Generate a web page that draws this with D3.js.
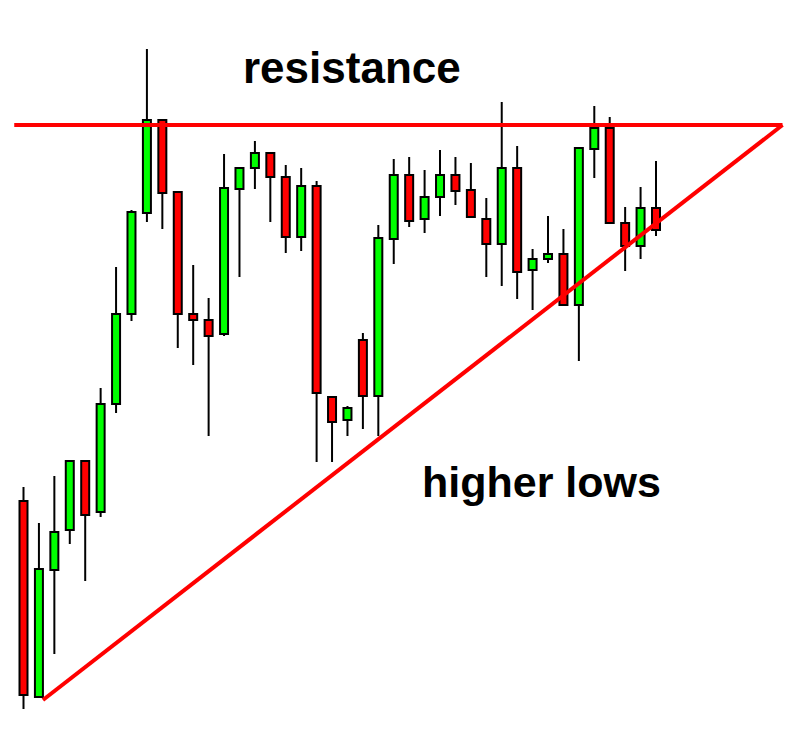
<!DOCTYPE html>
<html>
<head>
<meta charset="utf-8">
<script src="https://cdn.jsdelivr.net/npm/d3@7"></script>
<style>
	html, body { margin: 0; padding: 0; background: #fff; }
	svg { display: block; }
</style>
</head>
<body>
<div id="chart"></div>
<script>
// candle data, one entry per bar (price units)
var opens  = [44.8, 5.6, 31.0, 39.0, 52.8, 42.6, 64.2, 82.2, 102.4, 121.0, 106.6, 82.2, 81.0, 78.2, 107.2, 111.4, 114.4, 109.6, 97.6, 107.8, 65.6, 61.0, 77.0, 65.8, 97.2, 110.0, 101.2, 105.6, 110.0, 107.0, 101.2, 96.2, 111.4, 91.0, 93.2, 94.2, 84.0, 115.2, 119.4, 100.4, 95.8, 103.4];
var highs  = [47.6, 40.4, 49.8, 52.8, 52.8, 67.4, 91.6, 103.0, 135.2, 121.0, 106.6, 92.0, 85.4, 114.2, 111.4, 116.8, 114.6, 112.0, 111.4, 108.8, 65.6, 63.8, 78.4, 100.0, 113.2, 113.6, 111.0, 115.0, 113.6, 112.4, 105.4, 124.6, 115.8, 95.2, 101.8, 99.2, 115.4, 123.8, 121.6, 103.6, 107.6, 112.8];
var lows   = [3.2, 5.4, 14.2, 36.2, 28.8, 41.6, 62.4, 80.8, 100.6, 99.2, 75.4, 72.0, 57.8, 77.8, 89.6, 107.2, 100.6, 94.4, 94.8, 52.6, 52.6, 57.8, 59.2, 57.8, 92.2, 99.6, 98.4, 101.8, 104.0, 101.6, 89.6, 87.8, 85.2, 83.0, 92.4, 84.0, 72.8, 109.4, 100.4, 90.8, 93.2, 97.8];
var closes = [6.0, 31.2, 38.6, 52.8, 42.0, 64.2, 82.2, 102.6, 121.0, 106.4, 82.2, 81.0, 77.8, 107.4, 111.4, 114.4, 109.6, 97.6, 107.8, 66.4, 60.6, 63.4, 65.8, 97.4, 110.0, 100.8, 105.6, 110.0, 106.8, 101.6, 96.2, 111.4, 90.6, 93.2, 94.2, 84.0, 115.4, 119.4, 100.4, 95.8, 103.4, 99.0];

// trend lines, as [bar index, price] pairs
var resistanceLine = [[-0.6, 120], [49.2, 120]];
var supportLine    = [[1.26, 5], [49.2, 120]];

// annotation labels
var labelTexts = ['resistance', 'higher lows'];

var width = 800;
var height = 756;

var candles = opens.map(function(o, i) {
	return { i: i, open: o, high: highs[i], low: lows[i], close: closes[i] };
});

var svg = d3.select('#chart')
	.append('svg')
		.attr('width', width)
		.attr('height', height);

var x = d3.scaleLinear()
	.domain([0, candles.length - 1])
	.range([23.5, 656]);

var y = d3.scaleLinear()
	.domain([0, 130])
	.range([725, 75]);

var bodyWidth = 8;

var bars = svg.append('g')
	.selectAll('g.candle')
	.data(candles)
	.enter().append('g')
		.attr('class', 'candle');

// wicks
bars.append('line')
	.attr('x1', function(d) { return x(d.i); })
	.attr('x2', function(d) { return x(d.i); })
	.attr('y1', function(d) { return y(d.high); })
	.attr('y2', function(d) { return y(d.low); })
	.attr('stroke', '#000')
	.attr('stroke-width', 2);

// bodies
bars.append('rect')
	.attr('x', function(d) { return x(d.i) - bodyWidth/2; })
	.attr('width', bodyWidth)
	.attr('y', function(d) { return y(Math.max(d.open, d.close)); })
	.attr('height', function(d) { return Math.max(2, Math.abs(y(d.open) - y(d.close))); })
	.attr('fill', function(d) { return d.close >= d.open ? '#00ff00' : '#ff0000'; })
	.attr('stroke', '#000')
	.attr('stroke-width', 2);

var line = d3.line()
	.x(function(d) { return x(d[0]); })
	.y(function(d) { return y(d[1]); });

svg.append('path')
	.datum(resistanceLine)
	.attr('d', line)
	.attr('fill', 'none')
	.attr('stroke', '#ff0000')
	.attr('stroke-width', 4);

svg.append('path')
	.datum(supportLine)
	.attr('d', line)
	.attr('fill', 'none')
	.attr('stroke', '#ff0000')
	.attr('stroke-width', 4);

// labels
var labelPos = [{ x: 243, y: 83, size: 44 }, { x: 422, y: 497, size: 43 }];
svg.selectAll('text.label')
	.data(labelTexts)
	.enter().append('text')
		.attr('class', 'label')
		.attr('x', function(d, i) { return labelPos[i].x; })
		.attr('y', function(d, i) { return labelPos[i].y; })
		.attr('font-family', 'Liberation Sans, Arial, sans-serif')
		.attr('font-weight', 'bold')
		.attr('font-size', function(d, i) { return labelPos[i].size; })
		.attr('fill', '#000')
		.text(function(d) { return d; });
</script>
</body>
</html>
